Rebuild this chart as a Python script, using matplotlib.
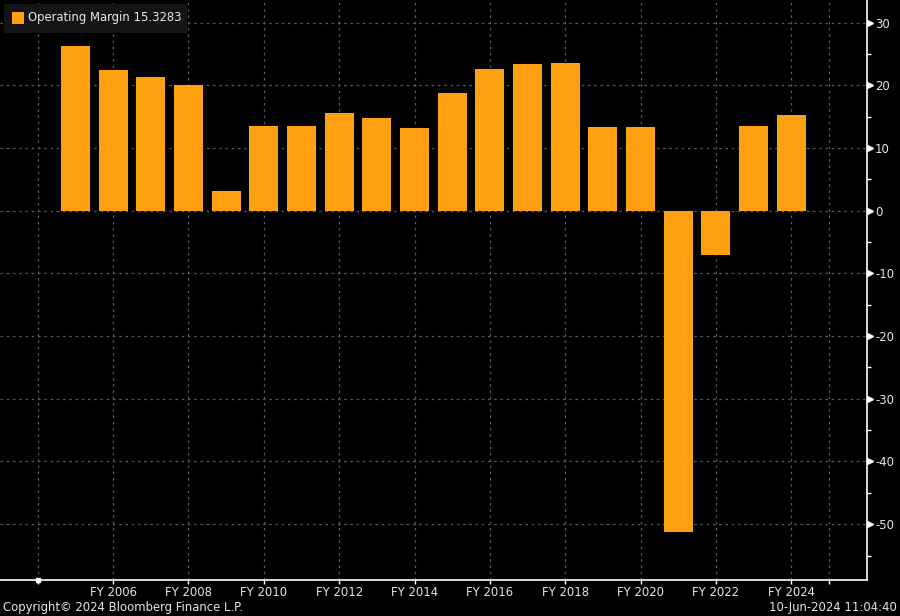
import matplotlib.pyplot as plt
import numpy as np

years = list(range(2005, 2025))
margins = [26.3, 22.4, 21.3, 20.0, 3.2, 13.5, 13.5, 15.6, 14.8, 13.2,
           18.7, 22.6, 23.4, 23.5, 13.4, 13.4, -51.2, -7.0, 13.5, 15.3283]
xtick_years = [2004, 2006, 2008, 2010, 2012, 2014, 2016, 2018, 2020, 2022, 2024, 2025]
xtick_labels = ['' if y in (2004, 2025) else f'FY {y}' for y in xtick_years]
ytick_vals = [30, 20, 10, 0, -10, -20, -30, -40, -50]

orange = '#ff9f12'
txt = '#e6e6e6'
fs = 8.4
plt.rcParams['font.family'] = ['DejaVu Sans']
plt.rcParams['axes.unicode_minus'] = False

fig = plt.figure(figsize=(9, 6.16), dpi=100, facecolor='black')
ax = fig.add_axes([0, 36 / 616, 866.7 / 900, 580 / 616], facecolor='black')

ax.bar(years, margins, width=0.77, color=orange, zorder=3)

ax.set_xlim(2003, 2026)
ax.set_ylim(-58.9, 33.6)

# grid
ax.set_xticks(xtick_years)
ax.set_xticklabels(xtick_labels)
ax.set_yticks(ytick_vals)
ax.set_yticks(np.arange(-55, 31, 10), minor=True)
ax.grid(True, which='major', color='#5a5a5a', linestyle=(0, (2, 3)), linewidth=0.9, zorder=1)

for s in ['left', 'top']:
    ax.spines[s].set_visible(False)
for s in ['right', 'bottom']:
    ax.spines[s].set_color('white')
    ax.spines[s].set_linewidth(1.2)

ax.yaxis.tick_right()
ax.tick_params(axis='y', which='major', length=0, pad=6, labelsize=fs, labelcolor=txt)
ax.tick_params(axis='y', which='minor', length=3, width=1, color='white', direction='out')
ax.tick_params(axis='x', which='major', length=3, width=1, color='white', direction='out',
               pad=1.5, labelsize=fs, labelcolor=txt)

# little white flags on the major y ticks
ax.plot([2026.1] * len(ytick_vals), ytick_vals, marker='>', markersize=5, linestyle='none',
        color='white', clip_on=False, zorder=5)
ax.plot([2004], [-58.9], marker='s', markersize=3, color='white', clip_on=False, zorder=5)

# legend box
fig.patches.append(plt.Rectangle((4 / 900, 1 - 33 / 616), 183 / 900, 29 / 616,
                                 transform=fig.transFigure, facecolor='#141414',
                                 edgecolor='none', zorder=4))
fig.patches.append(plt.Rectangle((12 / 900, 1 - 24 / 616), 12 / 900, 12 / 616,
                                 transform=fig.transFigure, facecolor=orange,
                                 edgecolor='none', zorder=5))
fig.text(28 / 900, 1 - 18 / 616, 'Operating Margin 15.3283', color=txt, fontsize=fs,
         va='center', ha='left', zorder=6)

fig.text(3 / 900, 1 - 607 / 616, 'Copyright© 2024 Bloomberg Finance L.P.', color=txt,
         fontsize=fs, va='center', ha='left')
fig.text(897 / 900, 1 - 607 / 616, '10-Jun-2024 11:04:40', color=txt,
         fontsize=fs, va='center', ha='right')

fig.savefig('out.png', dpi=100, facecolor='black')
